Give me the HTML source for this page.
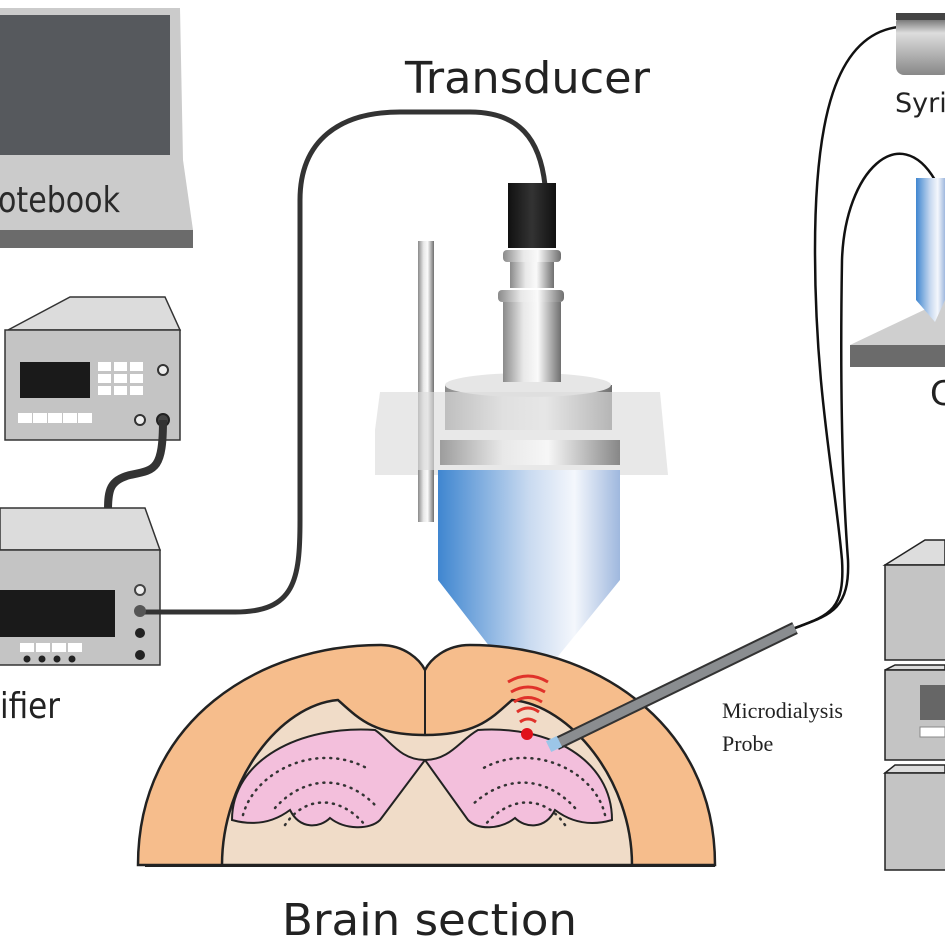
<!DOCTYPE html>
<html><head><meta charset="utf-8"><style>html,body{margin:0;padding:0;background:#fff}svg{display:block}</style></head>
<body>
<svg width="945" height="948" viewBox="0 0 945 948" xmlns="http://www.w3.org/2000/svg">
<defs>
<linearGradient id="blue" x1="0" x2="1"><stop offset="0" stop-color="#3f86d0"/><stop offset="0.5" stop-color="#c9daf0"/><stop offset="0.75" stop-color="#f4f7fc"/><stop offset="1" stop-color="#9fb8de"/></linearGradient>
<linearGradient id="silver" x1="0" x2="1"><stop offset="0" stop-color="#8a8a8a"/><stop offset="0.35" stop-color="#e8e8e8"/><stop offset="0.6" stop-color="#fafafa"/><stop offset="1" stop-color="#6f6f6f"/></linearGradient>
<linearGradient id="blk" x1="0" x2="1"><stop offset="0" stop-color="#111"/><stop offset="0.5" stop-color="#333"/><stop offset="1" stop-color="#111"/></linearGradient>
<linearGradient id="syr" x1="0" x2="0" y1="0" y2="1"><stop offset="0" stop-color="#555"/><stop offset="0.3" stop-color="#ddd"/><stop offset="1" stop-color="#888"/></linearGradient>
</defs>
<!-- laptop -->
<polygon points="0,8 180,8 183,160 193,230 0,230" fill="#cbcbcb"/>
<rect x="0" y="15" width="170" height="140" fill="#56595d"/>
<rect x="0" y="230" width="193" height="18" fill="#6b6b6b"/>
<text x="-2" y="212" font-family="DejaVu Sans, Liberation Sans, sans-serif" font-size="36" fill="#2a2a2a" textLength="122" lengthAdjust="spacingAndGlyphs">otebook</text>
<!-- function generator -->
<polygon points="8,330 70,297 165,297 180,330" fill="#dcdcdc" stroke="#333" stroke-width="1.5"/>
<rect x="5" y="330" width="175" height="110" fill="#c4c4c4" stroke="#333" stroke-width="1.5"/>
<rect x="20" y="362" width="70" height="36" fill="#1a1a1a"/>
<g fill="#fff"><rect x="98" y="362" width="13" height="9"/><rect x="114" y="362" width="13" height="9"/><rect x="130" y="362" width="13" height="9"/><rect x="98" y="374" width="13" height="9"/><rect x="114" y="374" width="13" height="9"/><rect x="130" y="374" width="13" height="9"/><rect x="98" y="386" width="13" height="9"/><rect x="114" y="386" width="13" height="9"/><rect x="130" y="386" width="13" height="9"/>
<rect x="18" y="413" width="14" height="10"/><rect x="33" y="413" width="14" height="10"/><rect x="48" y="413" width="14" height="10"/><rect x="63" y="413" width="14" height="10"/><rect x="78" y="413" width="14" height="10"/></g>
<circle cx="163" cy="370" r="5" fill="#eee" stroke="#333" stroke-width="2"/>
<circle cx="140" cy="420" r="5" fill="#eee" stroke="#333" stroke-width="2"/>
<circle cx="163" cy="420" r="6" fill="#444" stroke="#222" stroke-width="2"/>
<path d="M163,420 C163,470 155,470 130,475 C110,480 108,490 108,510" fill="none" stroke="#333" stroke-width="8"/>
<!-- amplifier -->
<polygon points="0,550 0,508 145,508 160,550" fill="#dcdcdc" stroke="#333" stroke-width="1.5"/>
<rect x="-2" y="550" width="162" height="115" fill="#c4c4c4" stroke="#333" stroke-width="1.5"/>
<rect x="0" y="590" width="115" height="47" fill="#1a1a1a"/>
<g fill="#fff"><rect x="20" y="643" width="14" height="9"/><rect x="36" y="643" width="14" height="9"/><rect x="52" y="643" width="14" height="9"/><rect x="68" y="643" width="14" height="9"/></g>
<g fill="#222"><circle cx="27" cy="659" r="3.5"/><circle cx="42" cy="659" r="3.5"/><circle cx="57" cy="659" r="3.5"/><circle cx="72" cy="659" r="3.5"/><circle cx="140" cy="633" r="5"/><circle cx="140" cy="655" r="5"/></g>
<circle cx="140" cy="590" r="5" fill="#eee" stroke="#444" stroke-width="2"/>
<text x="0" y="718" font-family="DejaVu Sans, Liberation Sans, sans-serif" font-size="36" fill="#222" textLength="60" lengthAdjust="spacingAndGlyphs">ifier</text>
<!-- transducer cable -->
<path d="M140,612 L235,612 C295,612 300,580 300,520 L300,200 C300,140 340,112 400,112 L470,112 C520,112 540,140 545,185" fill="none" stroke="#333" stroke-width="5"/>
<circle cx="140" cy="611" r="6" fill="#555"/>
<text x="405" y="93" font-family="DejaVu Sans, Liberation Sans, sans-serif" font-size="44" fill="#222" textLength="245" lengthAdjust="spacingAndGlyphs">Transducer</text>
<!-- rod -->
<rect x="418" y="241" width="16" height="280" fill="url(#silver)"/>
<!-- transducer body -->
<rect x="508" y="183" width="48" height="65" fill="url(#blk)"/>
<rect x="503" y="250" width="58" height="12" rx="4" fill="url(#silver)"/>
<rect x="510" y="262" width="44" height="26" fill="url(#silver)"/>
<rect x="498" y="290" width="66" height="12" rx="4" fill="url(#silver)"/>
<rect x="503" y="302" width="58" height="75" fill="url(#silver)"/>
<rect x="445" y="385" width="167" height="45" fill="url(#silver)"/>
<ellipse cx="528" cy="385" rx="83" ry="12" fill="#e6e6e6"/>
<rect x="503" y="362" width="58" height="20" fill="url(#silver)"/>
<polygon points="375,430 380,392 660,392 668,475 375,475" fill="#dcdcdc" opacity="0.65"/>
<rect x="440" y="440" width="180" height="25" fill="url(#silver)" opacity="0.8"/>
<path d="M438,470 L620,470 L620,580 L555,660 L500,660 L438,580 Z" fill="url(#blue)"/>
<ellipse cx="527" cy="660" rx="28" ry="8" fill="#8fb0d9" opacity="0.7"/>
<rect x="418" y="470" width="16" height="52" fill="url(#silver)"/>
<!-- brain -->
<path d="M138,865 C138,720 260,645 380,645 C405,645 420,660 425,670 C430,660 445,645 470,645 C590,645 715,720 715,865 Z" fill="#f6bd8c" stroke="#222" stroke-width="2.5"/>
<line x1="425" y1="670" x2="425" y2="735" stroke="#222" stroke-width="2"/>
<path d="M222,865 C222,780 280,705 338,700 C360,720 375,735 425,735 C475,735 490,720 512,700 C570,705 632,780 632,865 Z" fill="#f0dcc8" stroke="#222" stroke-width="2.5"/>
<path d="M425,760 C400,760 390,740 375,730 C300,725 232,760 232,820 C250,825 270,825 290,810 C300,830 320,828 330,818 C345,830 370,830 380,820 Z" fill="#f3bfdc" stroke="#222" stroke-width="2"/>
<path d="M425,760 C450,760 460,740 478,730 C550,725 612,760 612,820 C595,825 575,825 555,810 C545,830 525,828 515,818 C500,830 478,830 468,820 Z" fill="#f3bfdc" stroke="#222" stroke-width="2"/>
<g fill="none" stroke="#333" stroke-width="2.5" stroke-dasharray="1 6" stroke-linecap="round">
<path d="M243,815 C255,770 320,740 370,770"/><path d="M275,808 C300,780 340,770 375,805"/><path d="M285,825 C305,795 340,795 365,825"/>
<path d="M605,815 C595,770 530,740 480,770"/><path d="M575,808 C550,780 510,770 472,805"/><path d="M565,825 C545,795 510,795 485,825"/>
</g>
<line x1="145" y1="866" x2="715" y2="866" stroke="#222" stroke-width="2"/>
<g fill="none" stroke="#e0322a" stroke-width="3">
<path d="M508,682 Q528,670 548,682"/><path d="M511,692 Q528,682 545,692"/><path d="M514,702 Q528,693 542,702"/><path d="M517,712 Q528,704 539,712"/><path d="M520,722 Q528,716 536,722"/>
</g>
<circle cx="527" cy="734" r="6" fill="#e0101a"/>
<text x="282" y="935" font-family="DejaVu Sans, Liberation Sans, sans-serif" font-size="44" fill="#222" textLength="295" lengthAdjust="spacingAndGlyphs">Brain section</text>
<!-- probe -->
<line x1="556" y1="744" x2="795" y2="628" stroke="#333" stroke-width="13"/>
<line x1="556" y1="744" x2="795" y2="628" stroke="#8a8d90" stroke-width="9"/>
<rect x="548" y="738" width="12" height="12" fill="#9cc6e8" transform="rotate(-26 554 744)"/>
<text x="722" y="718" font-family="Liberation Serif, serif" font-size="22" fill="#222">Microdialysis</text>
<text x="722" y="751" font-family="Liberation Serif, serif" font-size="22" fill="#222">Probe</text>
<!-- right cables -->
<path d="M795,628 C830,615 845,610 842,560 C835,480 815,390 815,250 C815,120 835,35 898,27" fill="none" stroke="#111" stroke-width="2.5"/>
<path d="M795,628 C830,615 850,610 848,560 C842,480 840,380 842,260 C845,170 900,120 935,180" fill="none" stroke="#111" stroke-width="2.5"/>
<!-- syringe -->
<rect x="896" y="15" width="55" height="60" rx="8" fill="url(#syr)"/>
<rect x="896" y="13" width="55" height="7" fill="#444"/>
<text x="895" y="112" font-family="DejaVu Sans, Liberation Sans, sans-serif" font-size="27" fill="#222">Syri</text>
<!-- collector -->
<polygon points="850,345 945,300 945,345" fill="#cfcfcf"/>
<rect x="850" y="345" width="95" height="22" fill="#6b6b6b"/>
<path d="M916,178 L945,178 L945,300 L935,322 L916,300 Z" fill="url(#blue)"/>
<text x="930" y="405" font-family="DejaVu Sans, Liberation Sans, sans-serif" font-size="34" fill="#222">C</text>
<!-- stack -->
<g stroke="#222" stroke-width="1.5">
<polygon points="885,565 925,540 945,540 945,565" fill="#ddd"/>
<rect x="885" y="565" width="62" height="95" fill="#c4c4c4"/>
<polygon points="885,670 895,665 945,665 945,670" fill="#ddd"/>
<rect x="885" y="670" width="62" height="90" fill="#c4c4c4"/>
<polygon points="885,773 895,765 945,765 945,773" fill="#ddd"/>
<rect x="885" y="773" width="62" height="97" fill="#c4c4c4"/>
</g>
<rect x="920" y="685" width="25" height="35" fill="#666"/>
<rect x="920" y="727" width="25" height="10" fill="#fff" stroke="#888"/>
</svg>
</body></html>
